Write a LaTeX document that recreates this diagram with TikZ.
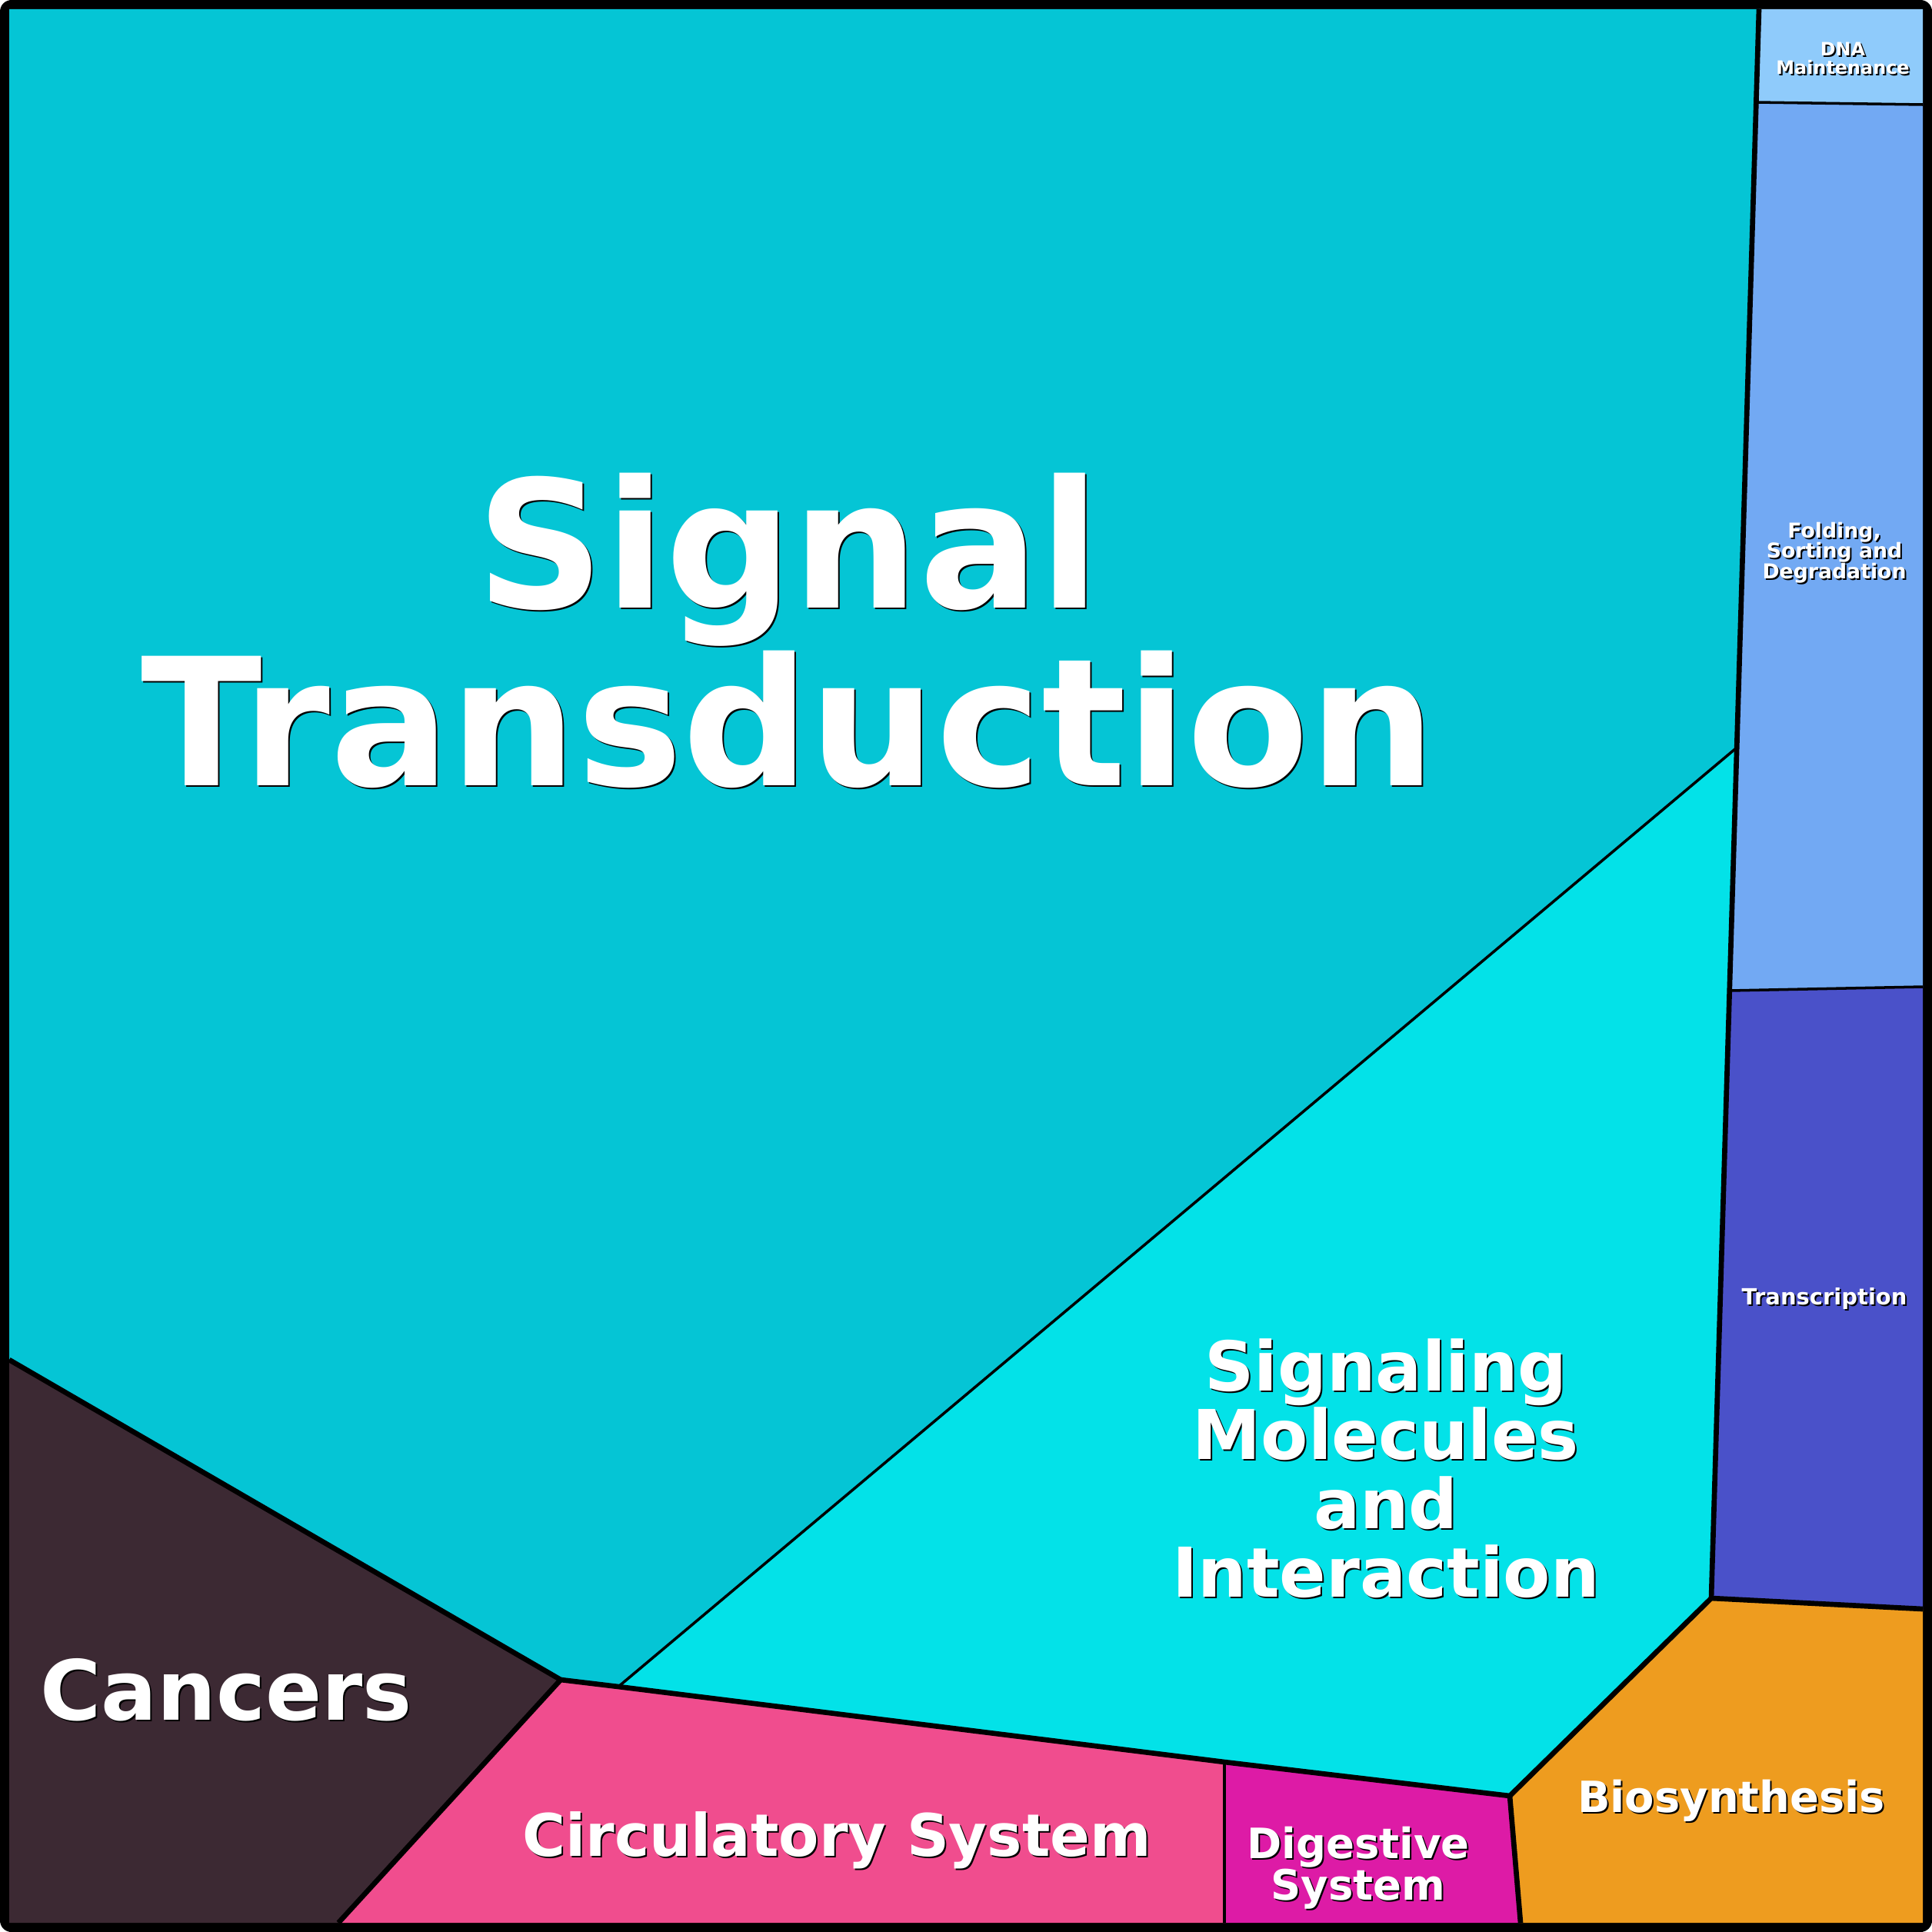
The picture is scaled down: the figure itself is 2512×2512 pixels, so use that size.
\documentclass[tikz,border=0pt]{standalone}
\usepackage{fontspec}
\setmainfont{DejaVu Sans}
\usepackage{tikz}
\usetikzlibrary{calc}
\definecolor{Csig}{HTML}{05C5D5}
\definecolor{Cmol}{HTML}{03E2E8}
\definecolor{Cdna}{HTML}{8FCBFB}
\definecolor{Cfold}{HTML}{72A9F3}
\definecolor{Ctrans}{HTML}{4A51C9}
\definecolor{Cbio}{HTML}{EE9C1F}
\definecolor{Cdig}{HTML}{DD1BA6}
\definecolor{Ccirc}{HTML}{F04D8E}
\definecolor{Ccan}{HTML}{3C2933}
\tikzset{lbl/.style={text=white, inner sep=0pt, align=center},
  fsz/.style={font=\bfseries\fontsize{#1}{#1}\selectfont}}
\newcommand{\shadowlabel}[4]{%
  \node[lbl, #2, text=black, xshift=0.2mm, yshift=-0.2mm] (#1-shadow) at (#3) {#4};
  \node[lbl, #2] (#1) at (#3) {#4};}

\begin{document}
\begin{tikzpicture}[x=0.1mm,y=-0.1mm]
\useasboundingbox (0,0) rectangle (2512,2512);

\def\lwmajor{1.9pt}
\def\lwminor{1.0pt}

% black frame behind the cells
\fill[black, rounded corners=1.5mm] (0,0) rectangle (2512,2512);

% corners of the cells
\coordinate (tl) at (12,12);
\coordinate (tr) at (2500,12);
\coordinate (br) at (2500,2500);
\coordinate (bl) at (12,2500);
\coordinate (ca) at (12,1768);
\coordinate (cv) at (729,2184);
\coordinate (cb) at (440,2500);
\coordinate (sb) at (804,2193);
\coordinate (dv) at (1592,2291);
\coordinate (db) at (1592,2500);
\coordinate (bv) at (1963,2335);
\coordinate (bb) at (1977,2500);
\coordinate (tv) at (2225,2078);
\coordinate (tbr) at (2500,2092);
\coordinate (sa) at (2257,973);
\coordinate (ftl) at (2249,1288);
\coordinate (ftr) at (2500,1283);
\coordinate (dfl) at (2283,133);
\coordinate (dfr) at (2500,136);
\coordinate (rt) at (2287,12);

\fill[Csig] (tl) -- (rt) -- (dfl) -- (sa) -- (sb) -- (cv) -- (ca) -- cycle;
\fill[Cmol] (sa) -- (ftl) -- (tv) -- (bv) -- (dv) -- (sb) -- cycle;
\fill[Ccan] (ca) -- (cv) -- (cb) -- (bl) -- cycle;
\fill[Ccirc] (cv) -- (sb) -- (dv) -- (db) -- (cb) -- cycle;
\fill[Cdig] (dv) -- (bv) -- (bb) -- (db) -- cycle;
\fill[Cbio] (tv) -- (tbr) -- (br) -- (bb) -- (bv) -- cycle;
\fill[Ctrans] (ftl) -- (ftr) -- (tbr) -- (tv) -- cycle;
\fill[Cfold] (dfl) -- (dfr) -- (ftr) -- (ftl) -- (sa) -- cycle;
\fill[Cdna] (rt) -- (tr) -- (dfr) -- (dfl) -- cycle;

\draw[line width=\lwminor] (sa) -- (sb);
\draw[line width=\lwminor] (dv) -- (db);
\draw[line width=\lwminor] (dfl) -- (dfr);
\draw[line width=\lwminor] (ftl) -- (ftr);

\draw[line width=\lwmajor, line join=round] (ca) -- (cv) -- (cb);
\draw[line width=\lwmajor, line join=round] (cv) -- (sb) -- (dv) -- (bv) -- (tv) -- (tbr);
\draw[line width=\lwmajor, line join=round] (bv) -- (bb);
\draw[line width=\lwmajor] (rt) -- (tv);

\shadowlabel{sig}{fsz=65.7pt, anchor=north}{1025,614}{Signal\\Transduction}
\shadowlabel{mol}{fsz=25.4pt, anchor=north}{1802,1740}{Signaling\\Molecules\\and\\Interaction}
\shadowlabel{can}{fsz=30.7pt, anchor=base}{294,2236}{Cancers}
\shadowlabel{circ}{fsz=21.7pt, anchor=base}{1088,2413}{Circulatory System}
\shadowlabel{dig}{fsz=15.5pt, anchor=north}{1766,2374}{Digestive\\System}
\shadowlabel{bio}{fsz=15.9pt, anchor=base}{2251,2356}{Biosynthesis}
\shadowlabel{trans}{fsz=8.25pt, anchor=base}{2372,1696}{Transcription}
\shadowlabel{fold}{fsz=7.6pt, anchor=north}{2385,678}{Folding,\\Sorting and\\Degradation}
\shadowlabel{dna}{fsz=6.8pt, anchor=north}{2396,54}{DNA\\Maintenance}

\end{tikzpicture}
\end{document}
